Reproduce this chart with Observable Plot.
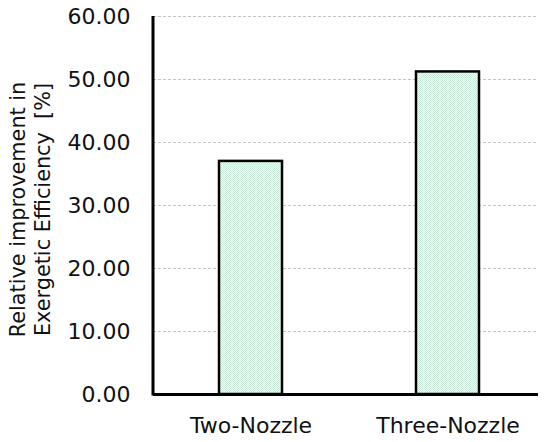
<!DOCTYPE html>
<html>
<head>
<meta charset="utf-8">
<script src="https://cdn.jsdelivr.net/npm/d3@7"></script>
<script src="https://cdn.jsdelivr.net/npm/@observablehq/plot@0.6"></script>
<style>
  html, body { margin: 0; padding: 0; background: #fff; }
  #chart { width: 550px; height: 442px; }
</style>
</head>
<body>
<div id="chart"></div>
<script>
const categories = ["Two-Nozzle", "Three-Nozzle"];
const values = [37.0, 51.2];
const yTicks = [0, 10, 20, 30, 40, 50, 60];
const yLabel = "Relative improvement in\nExergetic Efficiency  [%]";

const data = categories.map((c, i) => ({category: c, value: values[i]}));
const font = "DejaVu Sans, Verdana, sans-serif";

// y-axis domain line drawn from the scales
const yDomainLine = (index, scales, values, dims) => {
  const ns = "http://www.w3.org/2000/svg";
  const line = document.createElementNS(ns, "line");
  const x = dims.marginLeft;
  line.setAttribute("x1", x);
  line.setAttribute("x2", x);
  line.setAttribute("y1", scales.y(yTicks[yTicks.length - 1]));
  line.setAttribute("y2", scales.y(0) + 1.5);
  line.setAttribute("stroke", "#000");
  line.setAttribute("stroke-width", 3);
  return line;
};

const chart = Plot.plot({
  width: 550,
  height: 442,
  marginTop: 16,
  marginBottom: 48,
  marginLeft: 153,
  marginRight: 12,
  style: {fontFamily: font, color: "#111", background: "#fff"},
  x: {domain: categories, range: [152, 547], paddingInner: 0.68, paddingOuter: 0.34, label: null},
  y: {domain: [0, 60], ticks: yTicks, label: null},
  marks: [
    Plot.ruleY(yTicks.filter(d => d > 0), {stroke: "#c4c4c4", strokeWidth: 1, strokeDasharray: "3,2"}),
    Plot.barY(data, {x: "category", y: "value", fill: "url(#mintpat)", stroke: "#000", strokeWidth: 2.5}),
    Plot.ruleY([0], {stroke: "#000", strokeWidth: 3}),
    yDomainLine,
    Plot.axisY({ticks: yTicks, tickSize: 0, tickPadding: 23, tickFormat: d3.format(".2f"), fontSize: 22, label: null}),
    Plot.axisX({tickSize: 0, tickPadding: 23, fontSize: 22, label: null}),
    Plot.text([yLabel], {frameAnchor: "left", rotate: -90, dx: -124, dy: 4, fontSize: 20.8, lineHeight: 1.22, textAnchor: "middle", lineAnchor: "middle", fill: "#111"})
  ]
});

// pattern definition for the bar fill
const ns = "http://www.w3.org/2000/svg";
const defs = document.createElementNS(ns, "defs");
defs.innerHTML = `<pattern id="mintpat" patternUnits="userSpaceOnUse" width="2" height="2">
  <rect width="2" height="2" fill="#f4fbf7"/>
  <rect x="0" y="0" width="1" height="1" fill="#c8ecd9"/>
  <rect x="1" y="1" width="1" height="1" fill="#c8ecd9"/>
</pattern>`;
chart.insertBefore(defs, chart.firstChild);

document.getElementById("chart").appendChild(chart);
</script>
</body>
</html>
